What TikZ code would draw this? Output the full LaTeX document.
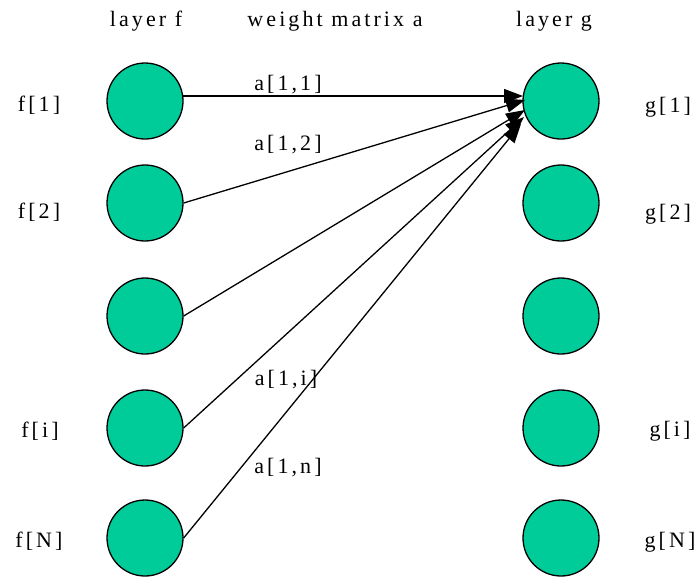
\documentclass[tikz,border=0pt]{standalone}
\usepackage{fontspec}
\setmainfont{Liberation Serif}[LetterSpace=14]
\usetikzlibrary{arrows.meta,calc}
\definecolor{nodegreen}{RGB}{0,204,153}
\begin{document}
\begin{tikzpicture}[x=1pt,y=-1pt,
  neuron/.style={circle, draw=black, fill=nodegreen, minimum size=76pt, inner sep=0pt, line width=1.3pt},
  lbl/.style={font=\fontsize{22}{26}\selectfont, anchor=base, inner sep=0pt},
  link/.style={line width=1.3pt, -{Triangle[length=19pt,width=14pt]}}]
\useasboundingbox (0,0) rectangle (700,576);

% column headings
\node[lbl] (hf) at (146,26) {layer f};
\node[lbl] (hw) at (335,26) {weight matrix a};
\node[lbl] (hg) at (554,26) {layer g};

% layer f
\node[neuron] (f1) at (145,101) {};
\node[neuron] (f2) at (145,203) {};
\node[neuron] (f3) at (145,316) {};
\node[neuron] (f4) at (145,428) {};
\node[neuron] (f5) at (145,538) {};

% layer g
\node[neuron] (g1) at (561,101) {};
\node[neuron] (g2) at (561,203) {};
\node[neuron] (g3) at (561,316) {};
\node[neuron] (g4) at (561,428) {};
\node[neuron] (g5) at (561,538) {};

% unit labels
\node[lbl] (lf1) at (39,111) {f[1]};
\node[lbl] (lf2) at (39,218) {f[2]};
\node[lbl] (lf4) at (40,437) {f[i]};
\node[lbl] (lf5) at (39,547) {f[N]};
\node[lbl] (lg1) at (668,112) {g[1]};
\node[lbl] (lg2) at (668,219) {g[2]};
\node[lbl] (lg4) at (670,436) {g[i]};
\node[lbl] (lg5) at (670,547) {g[N]};

% weight labels
\node[lbl] (w11) at (288,90) {a[1,1]};
\node[lbl] (w12) at (288,150) {a[1,2]};
\node[lbl] (w1i) at (286,385) {a[1,i]};
\node[lbl] (w1n) at (288,473) {a[1,n]};

% arrow tips gathered at the first unit of layer g
\coordinate (s1) at ($(f1)+(38,-5)$);
\coordinate (t1) at ($(g1)+(-38,-5)$);
\coordinate (t2) at ($(g1)+(-36,-1)$);
\coordinate (t3) at ($(g1)+(-36,9)$);
\coordinate (t4) at ($(g1)+(-37,16)$);
\coordinate (t5) at ($(g1)+(-40,23)$);

% connections
\draw[link] (s1) -- (t1);
\draw[link] (f2.east) -- (t2);
\draw[link] (f3.east) -- (t3);
\draw[link] (f4.east) -- (t4);
\draw[link] (f5.east) -- (t5);
\end{tikzpicture}
\end{document}
